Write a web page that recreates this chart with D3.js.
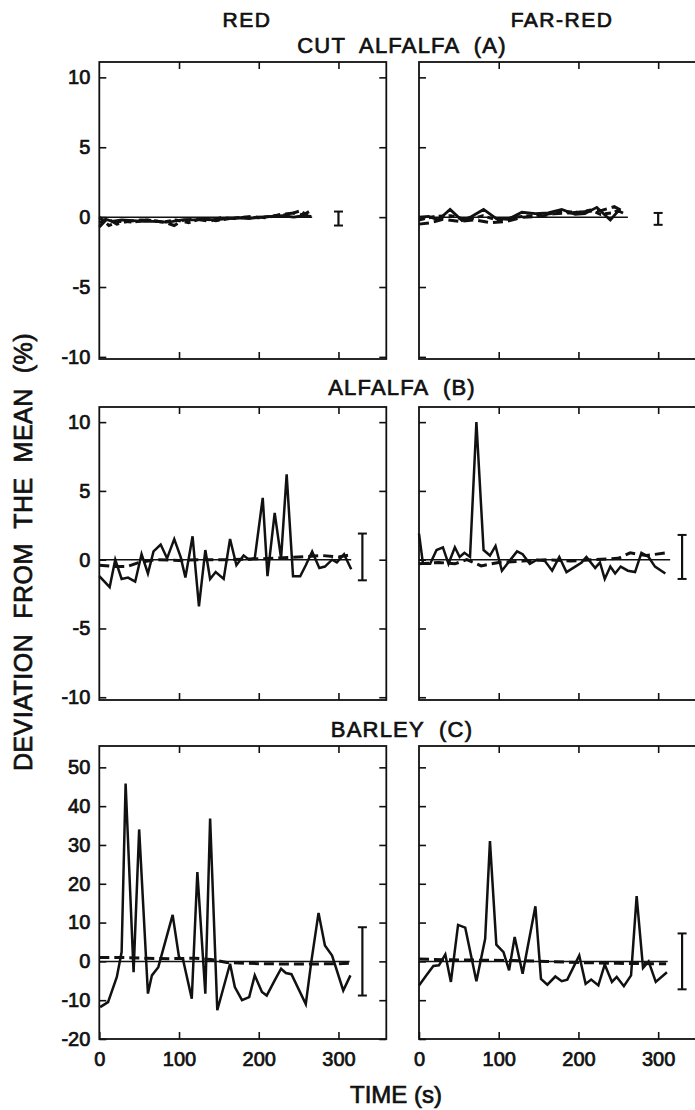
<!DOCTYPE html>
<html>
<head>
<meta charset="utf-8">
<script src="https://cdn.jsdelivr.net/npm/d3@7"></script>
<style>
  body { margin: 0; background: #fff; }
  text { font-family: "Liberation Sans", Arial, Helvetica, sans-serif; fill: #111; stroke: #111; stroke-width: 0.7px; }
</style>
</head>
<body>
<script>
//Width and height
var w = 695;
var h = 1110;

//Axis ticks and labels
var timeTicks = [100, 200, 300];
var timeLabels = [0, 100, 200, 300];
var pctTicks = [-10, -5, 0, 5, 10];
var barleyTicks = [-20, -10, 0, 10, 20, 30, 40, 50];
var columnTitles = ["RED", "FAR-RED"];
var rowTitles = ["CUT  ALFALFA  (A)", "ALFALFA  (B)", "BARLEY  (C)"];

//Cut alfalfa (A), red
var cutRedSolid = [[0,-0.4],[8,-0.15],[16,-0.3],[28,-0.2],[42,-0.25],[56,-0.3],[70,-0.3],[84,-0.35],[92,-0.3],[104,-0.2],[118,-0.2],[132,-0.15],[146,-0.2],[160,-0.1],[174,-0.05],[188,-0.1],[202,0],[216,0.05],[230,0.1],[244,0],[256,0.1],[266,0.05]];
var cutRedDashA = [[0,-0.7],[10,-0.1],[22,-0.5],[36,-0.3],[52,-0.2],[68,-0.25],[84,-0.4],[94,-0.6],[106,-0.2],[122,-0.15],[138,-0.3],[152,-0.05],[170,-0.1],[190,0.05],[210,-0.05],[228,0.2],[244,0.3],[256,0.15],[266,0.5]];
var cutRedDashB = [[0,0],[12,-0.6],[26,-0.3],[44,-0.35],[60,-0.2],[80,-0.35],[96,-0.2],[112,-0.4],[128,-0.1],[146,-0.25],[164,-0.1],[182,0],[200,-0.05],[220,0.1],[238,0.2],[252,0.45],[262,0.1]];

//Cut alfalfa (A), far-red
var cutFarSolid = [[0,0],[12,0.05],[24,-0.2],[39,0.55],[54,-0.25],[66,0.05],[81,0.55],[97,-0.1],[112,-0.15],[129,0.35],[146,0.25],[162,0.3],[179,0.55],[196,0.2],[208,0.25],[223,0.7],[240,-0.2],[250,0.45],[256,0.3]];
var cutFarDashA = [[0,-0.5],[15,-0.4],[30,-0.15],[50,-0.3],[70,-0.2],[90,-0.4],[110,-0.3],[130,0],[150,0.05],[170,0.25],[190,0.3],[210,0.4],[230,0.5],[245,0.75],[256,0.4]];
var cutFarDashB = [[0,-0.2],[20,0.05],[40,0.1],[60,-0.2],[80,0.1],[100,-0.25],[120,0],[140,0.1],[160,0.2],[180,0.4],[200,0.35],[215,0.5],[228,0.2],[242,0.3],[256,0.6]];

//Alfalfa (B), red
var alfRedSolid = [[0,-1.2],[13,-2.0],[20,0],[28,-1.4],[36,-1.3],[45,-1.6],[53,0.4],[61,-1.0],[68,0.6],[77,1.1],[85,0.1],[94,1.5],[102,0.2],[108,-1.3],[117,1.7],[125,-3.4],[133,0.7],[139,-1.4],[146,-0.9],[156,-1.4],[164,1.5],[172,-0.4],[181,0.3],[188,0],[195,0.1],[205,4.5],[211,-1.2],[220,3.4],[228,0.1],[235,6.2],[243,-1.2],[252,-1.2],[259,-0.4],[267,0.6],[276,-0.6],[283,-0.5],[292,0],[298,-0.2],[307,0.4],[316,-0.7]];
var alfRedDash = [[0,-0.4],[20,-0.5],[35,-0.5],[50,-0.2],[70,0],[100,-0.05],[130,0],[160,0],[190,0.05],[220,0.1],[250,0.2],[280,0.3],[300,0.2],[315,0.35]];

//Alfalfa (B), far-red
var alfFarSolid = [[0,1.9],[5,-0.3],[14,-0.3],[22,0.7],[30,0.9],[37,-0.3],[45,0.9],[51,0.2],[57,0.5],[64,0.2],[72,10.0],[81,0.7],[89,0.3],[96,1.0],[104,-0.8],[112,-0.2],[123,0.6],[130,0.4],[139,-0.3],[148,0],[158,-0.1],[167,-0.8],[176,0.2],[185,-0.9],[196,-0.5],[204,-0.2],[210,0.2],[221,-0.6],[227,-0.2],[233,-1.4],[240,-0.5],[246,-1.0],[253,-0.5],[262,-0.8],[271,-0.9],[279,0.5],[288,0.2],[296,-0.5],[309,-1.0]];
var alfFarDash = [[0,-0.3],[25,-0.2],[45,-0.3],[60,0],[78,-0.45],[100,-0.2],[130,-0.1],[160,0],[190,-0.1],[220,0],[250,0.1],[265,0.5],[285,0.3],[310,0.5]];

//Barley (C), red
var barRedSolid = [[1,-11.8],[11,-10.5],[22,-4.0],[28,2.4],[33,45.8],[43,-2.8],[50,34],[61,-8.3],[66,-3.6],[74,-1.5],[92,12],[100,1.1],[105,0.5],[116,-9.6],[123,23],[133,-8.3],[139,36.8],[148,-12.6],[164,-0.6],[170,-6.6],[179,-10],[188,-9.2],[195,-3.6],[204,-7.9],[210,-8.8],[220,-4.9],[228,-1.9],[234,-3.0],[241,-3.3],[259,-11],[266,0],[275,12.5],[283,4.1],[292,1.5],[306,-7.5],[315,-3.6]];
var barRedDash = [[0,1],[30,1],[60,0.8],[90,0.7],[120,0.8],[140,0.5],[160,-0.3],[200,-0.6],[250,-0.7],[300,-0.6],[314,-0.5]];

//Barley (C), far-red
var barFarSolid = [[0,-6.2],[10,-3.4],[18,-1.2],[25,-1.0],[33,1.8],[40,-5.3],[49,9.4],[58,8.7],[72,-5.1],[83,5.8],[89,31],[97,4.3],[106,2.4],[113,-2.3],[120,6.3],[130,-3.2],[146,14.2],[153,-4.5],[161,-6.0],[171,-3.9],[179,-5.1],[186,-4.7],[201,1.5],[209,-5.8],[216,-4.7],[225,-6.2],[233,-0.8],[242,-5.3],[248,-4.0],[257,-6.4],[266,-3.6],[273,16.8],[281,-1.7],[288,0],[297,-5.3],[311,-2.8]];
var barFarDash = [[0,0.6],[40,0.4],[80,0.3],[120,0.2],[160,0],[200,-0.3],[250,-0.5],[300,-0.6],[310,-0.6]];

//Error bars: time, low, high
var errorBars = [[300,-0.6,0.4],[300,-0.55,0.3],[330,-1.5,1.9],[330,-1.4,1.8],[330,-8.8,8.8],[330,-7.2,7.2]];

//Zero reference line end (s)
var zeroEnds = [267, 262, 316, 315, 314, 312];

//Panel layout
var colX = [[99.3, 386.3], [419, 706]];
var rowY = [[62, 359], [407, 700], [746, 1039]];
var yDomains = [[-10.15, 11.1], [-10.2, 11.1], [-20, 55.5]];
var tickLen = 7;

var panels = [
  {row: 0, col: 0, solid: cutRedSolid, dashes: [cutRedDashA, cutRedDashB]},
  {row: 0, col: 1, solid: cutFarSolid, dashes: [cutFarDashA, cutFarDashB]},
  {row: 1, col: 0, solid: alfRedSolid, dashes: [alfRedDash]},
  {row: 1, col: 1, solid: alfFarSolid, dashes: [alfFarDash]},
  {row: 2, col: 0, solid: barRedSolid, dashes: [barRedDash]},
  {row: 2, col: 1, solid: barFarSolid, dashes: [barFarDash]}
];

//Create SVG element
var svg = d3.select("body")
  .append("svg")
  .attr("width", w)
  .attr("height", h);

var fmt = function(d) { return String(d); };

panels.forEach(function(p, i) {
  var x0 = colX[p.col][0], x1 = colX[p.col][1];
  var y0 = rowY[p.row][0], y1 = rowY[p.row][1];

  var xScale = d3.scaleLinear().domain([0, 360]).range([x0, x1]);
  var yScale = d3.scaleLinear().domain(yDomains[p.row]).range([y1, y0]);
  var yVals = p.row == 2 ? barleyTicks : pctTicks;

  var g = svg.append("g");

  //Left axis (labels only on left column)
  g.append("g")
    .attr("class", "axis")
    .attr("transform", "translate(" + x0 + ",0)")
    .call(d3.axisLeft(yScale).tickValues(yVals).tickSizeInner(-tickLen).tickSizeOuter(0)
      .tickPadding(9).tickFormat(p.col == 0 ? fmt : ""));

  //Right axis
  g.append("g")
    .attr("class", "axis")
    .attr("transform", "translate(" + x1 + ",0)")
    .call(d3.axisRight(yScale).tickValues(yVals).tickSizeInner(-tickLen).tickSizeOuter(0).tickFormat(""));

  //Top axis
  g.append("g")
    .attr("class", "axis")
    .attr("transform", "translate(0," + y0 + ")")
    .call(d3.axisTop(xScale).tickValues(timeTicks).tickSizeInner(-tickLen).tickSizeOuter(0).tickFormat(""));

  //Bottom axis
  var bottom = g.append("g")
    .attr("class", "axis")
    .attr("transform", "translate(0," + y1 + ")");
  if (p.row == 2) {
    bottom.call(d3.axisBottom(xScale).tickValues(timeLabels).tickSizeInner(-tickLen).tickSizeOuter(0)
      .tickPadding(13).tickFormat(fmt));
  } else {
    bottom.call(d3.axisBottom(xScale).tickValues(timeTicks).tickSizeInner(-tickLen).tickSizeOuter(0).tickFormat(""));
  }

  //Frame
  g.append("rect")
    .attr("x", x0)
    .attr("y", y0)
    .attr("width", x1 - x0)
    .attr("height", y1 - y0)
    .attr("fill", "none")
    .attr("stroke", "#111")
    .attr("stroke-width", 1.8);

  var line = d3.line()
    .x(function(d) { return xScale(d[0]); })
    .y(function(d) { return yScale(d[1]); });

  //Zero reference line
  g.append("path")
    .datum([[0, 0], [zeroEnds[i], 0]])
    .attr("d", line)
    .attr("fill", "none")
    .attr("stroke", "#111")
    .attr("stroke-width", 1.5);

  //Dashed series
  p.dashes.forEach(function(ds, k) {
    g.append("path")
      .datum(ds)
      .attr("d", line)
      .attr("fill", "none")
      .attr("stroke", "#111")
      .attr("stroke-width", 3)
      .attr("stroke-dasharray", k == 0 ? "10,5" : "6,4");
  });

  //Solid series
  g.append("path")
    .datum(p.solid)
    .attr("d", line)
    .attr("fill", "none")
    .attr("stroke", "#111")
    .attr("stroke-width", p.row == 0 ? 2.8 : 2.5);

  //Error bar
  var eb = errorBars[i];
  var ex = xScale(eb[0]);
  g.append("line")
    .attr("x1", ex).attr("x2", ex)
    .attr("y1", yScale(eb[1])).attr("y2", yScale(eb[2]))
    .attr("stroke", "#111").attr("stroke-width", 2.2);
  [eb[1], eb[2]].forEach(function(v) {
    g.append("line")
      .attr("x1", ex - 4.5).attr("x2", ex + 4.5)
      .attr("y1", yScale(v)).attr("y2", yScale(v))
      .attr("stroke", "#111").attr("stroke-width", 2);
  });
});

svg.selectAll(".axis path.domain").remove();
svg.selectAll(".axis line").attr("stroke", "#111").attr("stroke-width", 1.6);
svg.selectAll(".axis text")
  .style("font-size", "20px")
  .style("font-family", "'Liberation Sans', Arial, sans-serif")
  .attr("fill", "#111");

//Column titles
svg.selectAll(".coltitle")
  .data(columnTitles)
  .enter()
  .append("text")
  .attr("class", "coltitle")
  .attr("x", function(d, i) { return i == 0 ? 247 : 562; })
  .attr("y", 27)
  .attr("text-anchor", "middle")
  .style("font-size", "21px")
  .style("letter-spacing", "1.5px")
  .text(function(d) { return d; });

//Row titles
var rowBase = [53, 395, 737];
svg.selectAll(".rowtitle")
  .data(rowTitles)
  .enter()
  .append("text")
  .attr("class", "rowtitle")
  .attr("x", 402)
  .attr("y", function(d, i) { return rowBase[i]; })
  .attr("text-anchor", "middle")
  .style("font-size", "22px")
  .style("letter-spacing", "1.2px")
  .style("white-space", "pre")
  .text(function(d) { return d; });

//Y axis title
svg.append("text")
  .attr("transform", "translate(32,552) rotate(-90)")
  .attr("text-anchor", "middle")
  .style("font-size", "25px")
  .style("letter-spacing", "0.5px")
  .style("white-space", "pre")
  .text("DEVIATION  FROM  THE  MEAN  (%)");

//X axis title
svg.append("text")
  .attr("x", 396)
  .attr("y", 1103)
  .attr("text-anchor", "middle")
  .style("font-size", "24px")
  .style("white-space", "pre")
  .text("TIME (s)");
</script>
</body>
</html>
